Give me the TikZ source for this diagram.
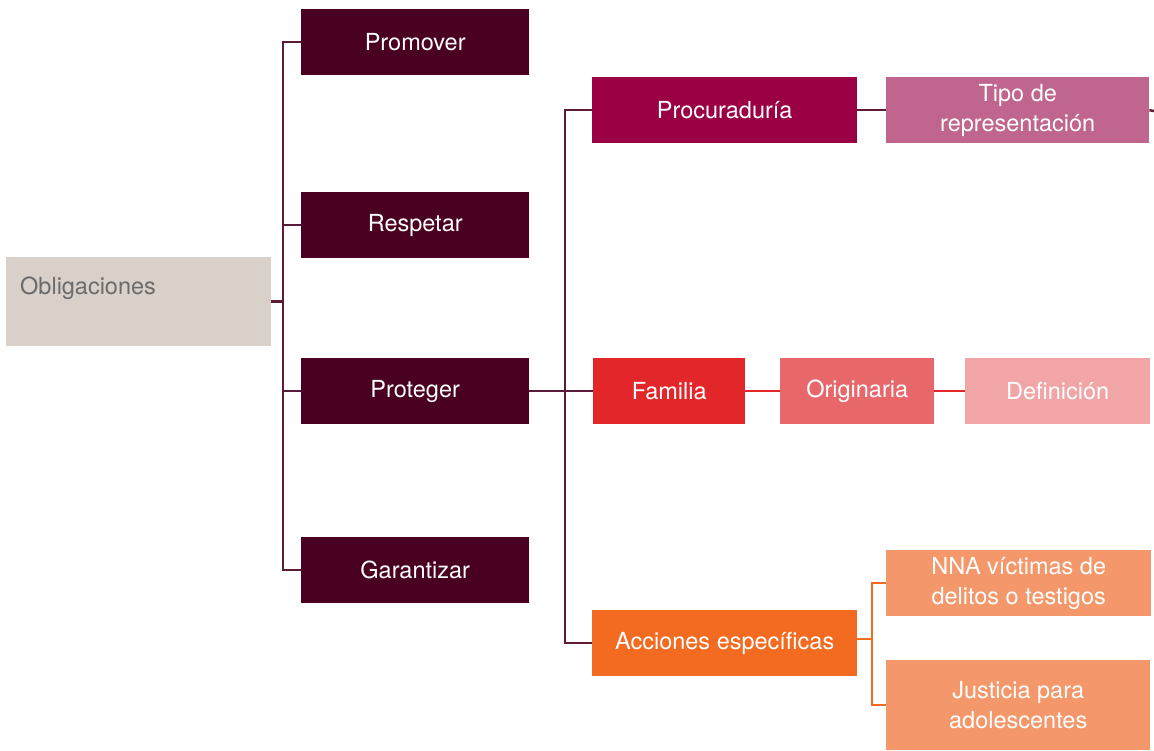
\documentclass[tikz,border=0pt]{standalone}
\usepackage{fontspec}
\setmainfont{TeX Gyre Heros}
\definecolor{cObl}{HTML}{D9D0CA}
\definecolor{cObT}{HTML}{6B6B6B}
\definecolor{cDark}{HTML}{4A0020}
\definecolor{cLine}{HTML}{5A1A38}
\definecolor{cProc}{HTML}{9B0045}
\definecolor{cTipo}{HTML}{C0658E}
\definecolor{cFam}{HTML}{E2262A}
\definecolor{cOrig}{HTML}{E8676A}
\definecolor{cDef}{HTML}{F2A5A6}
\definecolor{cAcc}{HTML}{F26B21}
\definecolor{cAccL}{HTML}{F4976A}
\tikzset{
  box/.style={anchor=north west, inner sep=0pt, text=white, align=center,
    font=\fontsize{23.5}{30}\selectfont},
  dk/.style={draw=cLine, line width=2.5pt},
  rd/.style={draw=cFam, line width=2.5pt},
  og/.style={draw=cAcc, line width=2.5pt},
}
\begin{document}
\begin{tikzpicture}[x=1pt,y=-1pt]
\useasboundingbox (0,0) rectangle (1154,750);
% boxes
\node[box, fill=cObl, minimum width=265pt, minimum height=89pt] (obl) at (6,257) {};
\node[anchor=west, text=cObT, font=\fontsize{23.5}{30}\selectfont, inner sep=0pt] (oblt) at (20,288) {Obligaciones};
\node[box, fill=cDark, minimum width=228pt, minimum height=66pt] (prom) at (301,9) {Promover};
\node[box, fill=cDark, minimum width=228pt, minimum height=66pt] (resp) at (301,192) {Respetar};
\node[box, fill=cDark, minimum width=228pt, minimum height=66pt] (prot) at (301,358) {Proteger};
\node[box, fill=cDark, minimum width=228pt, minimum height=66pt] (gar) at (301,537) {Garantizar};
\node[box, fill=cProc, minimum width=265pt, minimum height=66pt] (proc) at (592,77) {Procuradur\'ia};
\node[box, fill=cTipo, minimum width=263pt, minimum height=66pt] (tipo) at (886,77) {Tipo de\\representaci\'on};
\node[box, fill=cFam, minimum width=152pt, minimum height=66pt] (fam) at (593,358) {Familia};
\node[box, fill=cOrig, minimum width=154pt, minimum height=66pt] (orig) at (780,358) {Originaria};
\node[box, fill=cDef, minimum width=185pt, minimum height=66pt] (def) at (965,358) {Definici\'on};
\node[box, fill=cAcc, minimum width=265pt, minimum height=66pt] (acc) at (592,610) {Acciones espec\'ificas};
\node[box, fill=cAccL, minimum width=265pt, minimum height=66pt] (nna) at (886,550) {NNA v\'ictimas de\\delitos o testigos};
\node[box, fill=cAccL, minimum width=264pt, minimum height=90pt] (jus) at (886,660) {Justicia para\\adolescentes};
% connectors
\coordinate (tr) at (283,0);
\coordinate (tr2) at (565,0);
\coordinate (tr3) at (872,0);
\coordinate (stub) at (1154,111);
\coordinate (accj) at (872,639);
\draw[dk] (obl.east) -- (tr |- obl.east);
\draw[dk] (prom.west) -| (tr |- gar.west) -- (gar.west);
\draw[dk] (resp.west) -- (tr |- resp.west);
\draw[dk] (prot.west) -- (tr |- prot.west);
\draw[dk] (prot.east) -- (fam.west);
\draw[dk] (proc.west) -| (tr2 |- acc.west) -- (acc.west);
\draw[dk] (proc.east) -- (tipo.west);
\draw[dk] (tipo.east) -- (stub);
\draw[rd] (fam.east) -- (orig.west);
\draw[rd] (orig.east) -- (def.west);
\draw[og] (acc.east |- accj) -- (accj);
\draw[og] (nna.west) -| (tr3 |- jus.west) -- (jus.west);
\end{tikzpicture}
\end{document}
